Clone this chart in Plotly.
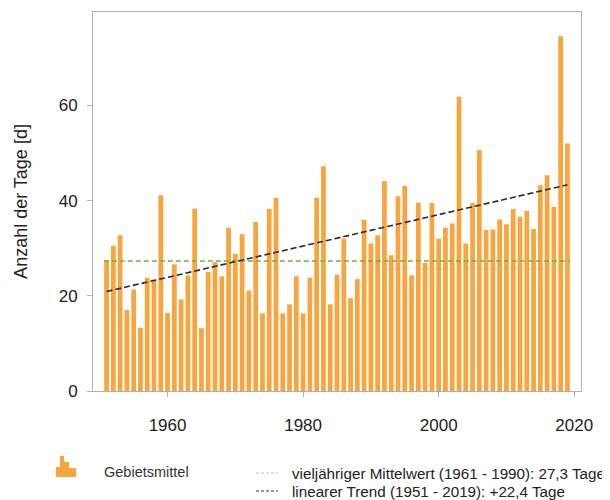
import plotly.graph_objects as go

years = list(range(1951, 2020))
days = [
    27.5, 30.5, 32.7, 17.0, 21.3, 13.3, 23.8, 23.4, 41.1, 16.4,   # 1951-1960
    26.6, 19.2, 24.3, 38.3, 13.2, 25.0, 27.1, 24.1, 34.3, 28.8,   # 1961-1970
    32.9, 21.1, 35.5, 16.3, 38.2, 40.6, 16.3, 18.2, 24.1, 16.3,   # 1971-1980
    23.8, 40.6, 47.2, 18.2, 24.4, 32.0, 19.5, 23.5, 35.9, 31.0,   # 1981-1990
    32.7, 44.1, 28.5, 40.9, 43.1, 24.3, 39.6, 26.9, 39.5, 32.0,   # 1991-2000
    34.3, 35.2, 61.8, 31.0, 39.5, 50.6, 33.8, 33.9, 36.0, 35.0,   # 2001-2010
    38.2, 36.6, 37.8, 34.0, 43.2, 45.3, 38.7, 74.5, 52.0,         # 2011-2019
]
mean_value = 27.3
mean_span = [1950.6, 2019.4]
trend_years = [1951, 2019]
trend_values = [20.9, 43.3]

y_ticks = [0, 20, 40, 60]
x_ticks = [1960, 1980, 2000, 2020]

label_mean = "vieljähriger Mittelwert (1961 - 1990): 27,3 Tage"
label_trend = "linearer Trend (1951 - 2019): +22,4 Tage"
label_bars = "Gebietsmittel"
y_title = "Anzahl der Tage [d]"

BAR = "#F8A540"
FONT = "Liberation Sans, Arial, sans-serif"

# page has an 8px body margin; work in reference pixel coordinates and shift
OFF = 8
W, H = 610 - OFF, 500 - OFF
L, R, T, B = 93 - OFF, 581 - OFF, 12 - OFF, 391 - OFF


def px(x):
    return (x - OFF - L) / (R - L)


def py(y):
    return (B - (y - OFF)) / (B - T)


fig = go.Figure()
fig.add_trace(go.Bar(x=years, y=days, marker=dict(color=BAR, line=dict(width=0)),
                     width=0.7, showlegend=False, hoverinfo="x+y"))
fig.add_trace(go.Scatter(x=mean_span, y=[mean_value, mean_value], mode="lines",
                         line=dict(color="#6CB140", width=1.6, dash="5px,3px"),
                         showlegend=False))
fig.add_trace(go.Scatter(x=trend_years, y=trend_values, mode="lines",
                         line=dict(color="#2a2a2a", width=1.6, dash="6px,3px"),
                         showlegend=False))

shapes = []
# legend icon (small histogram glyph)
icon = [(56, 60, 467), (60, 64, 456), (64, 69, 462), (69, 76, 468)]
for x0, x1, ytop in icon:
    shapes.append(dict(type="rect", xref="paper", yref="paper",
                       x0=px(x0), x1=px(x1), y0=py(477), y1=py(ytop),
                       fillcolor=BAR, line=dict(width=0)))
shapes.append(dict(type="line", xref="paper", yref="paper",
                   x0=px(256), x1=px(278), y0=py(473), y1=py(473),
                   line=dict(color="#b9cbb0", width=1, dash="3px,2px")))
shapes.append(dict(type="line", xref="paper", yref="paper",
                   x0=px(256), x1=px(278), y0=py(491), y1=py(491),
                   line=dict(color="#333333", width=1.2, dash="3px,2px")))

annotations = [
    dict(text=label_bars, x=px(102), y=py(472), xref="paper", yref="paper",
         xanchor="left", yanchor="middle", showarrow=False,
         font=dict(size=14.5, color="#333333", family=FONT)),
    dict(text=label_mean, x=px(290), y=py(473), xref="paper", yref="paper",
         xanchor="left", yanchor="middle", showarrow=False,
         font=dict(size=15.2, color="#222222", family=FONT)),
    dict(text=label_trend, x=px(290), y=py(491), xref="paper", yref="paper",
         xanchor="left", yanchor="middle", showarrow=False,
         font=dict(size=15.2, color="#222222", family=FONT)),
]

fig.update_layout(
    width=W, height=H,
    margin=dict(l=L, r=W - R, t=T, b=H - B, pad=0),
    paper_bgcolor="white", plot_bgcolor="white",
    font=dict(family=FONT, size=14, color="#222222"),
    bargap=0.3,
    shapes=shapes, annotations=annotations,
)
fig.update_xaxes(range=[1949, 2021], tickvals=x_ticks, showgrid=False, zeroline=False,
                 showline=True, linecolor="#b0b0b0", linewidth=1, mirror=True,
                 ticks="outside", ticklen=5, tickcolor="#b0b0b0",
                 ticklabelstandoff=14,
                 tickfont=dict(size=17, color="#222222"), automargin=False)
fig.update_yaxes(range=[0, 79.6], tickvals=y_ticks, showgrid=False, zeroline=False,
                 showline=True, linecolor="#b0b0b0", linewidth=1, mirror=True,
                 ticks="outside", ticklen=5, tickcolor="#b0b0b0",
                 ticklabelstandoff=6,
                 tickfont=dict(size=17, color="#222222"),
                 title=dict(text=y_title, font=dict(size=18, color="#222222"), standoff=26),
                 automargin=False)

fig.write_html("out.html")
